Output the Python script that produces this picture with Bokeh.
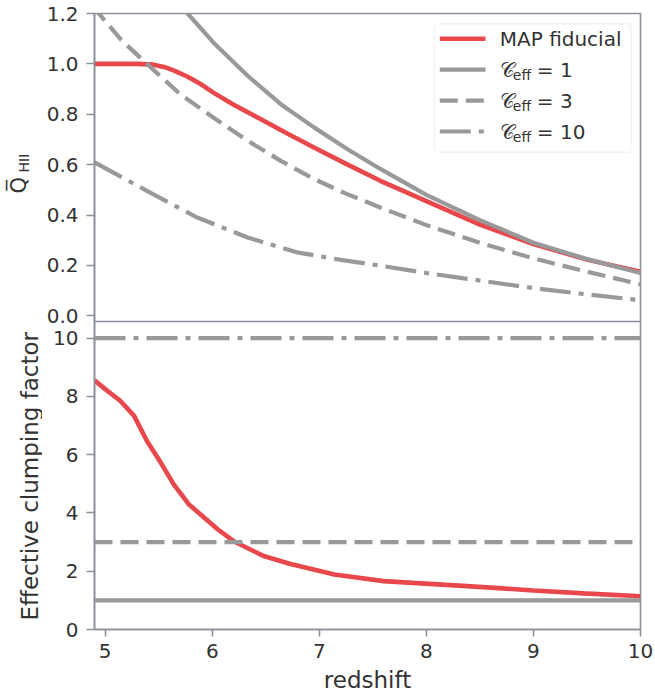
import math
from bokeh.plotting import figure
from bokeh.layouts import row
from bokeh.models import (Range1d, Label, Span, FixedTicker, BoxAnnotation,
                          CustomJSTickFormatter)
from bokeh.embed import file_html
from bokeh.resources import INLINE

# ---------------- data ----------------
z_map = [4.9, 5.3, 5.45, 5.55, 5.65, 5.77, 5.9, 6.01, 6.2, 6.45, 6.7, 6.95, 7.25, 7.57,
         8.0, 8.5, 9.0, 9.5, 10.0]
q_map = [1.0, 1.0, 0.997, 0.988, 0.972, 0.949, 0.918, 0.886, 0.838, 0.781, 0.724, 0.668,
         0.603, 0.536, 0.455, 0.362, 0.285, 0.223, 0.175]

z_c1 = [5.7, 5.77, 6.01, 6.33, 6.64, 6.95, 7.26, 7.57, 8.0, 8.5, 9.0, 9.5, 10.0]
q_c1 = [1.235, 1.2, 1.085, 0.953, 0.84, 0.748, 0.662, 0.583, 0.48, 0.38, 0.29, 0.225, 0.17]

z_c3 = [4.88, 4.94, 5.15, 5.39, 5.7, 6.01, 6.33, 6.64, 6.95, 7.26, 7.57, 8.0, 8.5, 9.0,
        9.5, 10.0]
q_c3 = [1.225, 1.2, 1.095, 1.0, 0.88, 0.787, 0.695, 0.615, 0.543, 0.483, 0.43, 0.36, 0.29,
        0.228, 0.175, 0.125]

z_c10 = [4.9, 5.39, 5.86, 6.33, 6.79, 7.2, 7.57, 8.0, 8.5, 9.0, 9.5, 10.0]
q_c10 = [0.609, 0.496, 0.39, 0.311, 0.252, 0.222, 0.199, 0.17, 0.14, 0.11, 0.085, 0.062]

z_clump = [4.9, 5.0, 5.14, 5.27, 5.39, 5.52, 5.64, 5.78, 6.05, 6.2, 6.48, 6.73, 6.82,
           7.14, 7.6, 8.38, 9.0, 9.47, 10.0]
c_clump = [8.55, 8.25, 7.85, 7.33, 6.47, 5.72, 4.98, 4.30, 3.44, 3.03, 2.52, 2.25, 2.17,
           1.89, 1.66, 1.49, 1.34, 1.24, 1.14]

c_eff_levels = [1, 3, 10]
legend_main = "MAP fiducial"
legend_c_symbol = ["\U0001D49E", "eff"]
legend_c_values = ["= 1", "= 3", "= 10"]
q_label = ["Q\u0305", "HII"]
x_label = "redshift"
c_label = "Effective clumping factor"

x_ticks = [5, 6, 7, 8, 9, 10]
q_ticks = [0.0, 0.2, 0.4, 0.6, 0.8, 1.0, 1.2]
c_ticks = [0, 2, 4, 6, 8, 10]

# ---------------- style ----------------
FONT = "DejaVu Sans"
TXT = "#333333"
SPINE = "#8a919b"
RED = "#e8474c"
GRAY = "#999999"
DASH = "18 8"
DASHDOT = "31 8 5 8"
STYLES = {1: None, 3: DASH, 10: DASHDOT}

X0, X1 = 4.9, 10.0
Q0, Q1 = -0.0226, 1.2          # top panel range
C1 = 10.57                     # bottom panel top
PANEL_H = 308
FRAME_W = 546
TOP_B, BOT_B = 13, 66
QW = 42                        # strip holding rotated y labels
LEFT, RIGHT = 94 - QW, 15
H = TOP_B + 2 * PANEL_H + BOT_B


def q_to_c(q):
    """position of a top-panel value in the shared (bottom-panel) y coordinate"""
    return C1 + (q - Q0) * C1 / (Q1 - Q0)


def fxy(fx, fy):
    """pixel offsets from the top-left corner of the top panel -> (x, q) data coords"""
    return (X0 + fx / FRAME_W * (X1 - X0), Q1 - fy / PANEL_H * (Q1 - Q0))


def txt(x, y, text, size, angle=0.0, align="left", **kw):
    return Label(x=x, y=y, text=text, text_font=FONT, text_font_size=size,
                 text_color=TXT, text_baseline="middle", text_align=align,
                 angle=angle, **kw)


# ---------------- main figure (both panels share one frame) ----------------
p = figure(width=LEFT + FRAME_W + RIGHT, height=H,
           x_range=Range1d(X0, X1), y_range=Range1d(0, q_to_c(Q1)),
           output_backend="svg", toolbar_location=None,
           min_border_left=LEFT, min_border_right=RIGHT,
           min_border_top=TOP_B, min_border_bottom=BOT_B)
# the top panel is drawn in an extra y range that maps its values onto the upper half
p.extra_y_ranges = {"q": Range1d(Q0 - (Q1 - Q0), Q1)}
p.outline_line_color = SPINE
p.outline_line_width = 1.6
p.xgrid.visible = False
p.ygrid.visible = False
for ax in p.axis:
    ax.axis_line_color = SPINE
    ax.axis_line_width = 1.6
    ax.major_tick_line_color = SPINE
    ax.major_tick_line_width = 1.6
    ax.major_tick_in = 0
    ax.minor_tick_line_color = None
    ax.major_label_text_font = FONT
    ax.major_label_text_font_size = "20px"
    ax.major_label_text_color = TXT
    ax.axis_label_text_font = FONT
    ax.axis_label_text_font_size = "23px"
    ax.axis_label_text_color = TXT
    ax.axis_label_text_font_style = "normal"

p.xaxis.ticker = FixedTicker(ticks=x_ticks)
p.xaxis.major_tick_out = 7
p.xaxis.major_label_standoff = 7
p.xaxis.axis_label = x_label
p.xaxis.axis_label_standoff = 6

p.yaxis.ticker = FixedTicker(ticks=list(c_ticks) + [q_to_c(q) for q in q_ticks])
p.yaxis.formatter = CustomJSTickFormatter(code=f"""
    if (tick > {C1} + 1e-9) {{
        const q = {Q0} + (tick - {C1}) * {(Q1 - Q0) / C1};
        return (Math.round(q * 10) / 10).toFixed(1);
    }}
    return tick.toFixed(0);
""")
p.yaxis.major_tick_out = 8
p.yaxis.major_label_standoff = 8

# divider between the panels
p.add_layout(Span(location=C1, dimension="width", line_color=SPINE, line_width=1.6))

# ---- top panel curves ----
p.line(z_map, q_map, y_range_name="q", line_color=RED, line_width=4.6)
p.line(z_c1, q_c1, y_range_name="q", line_color=GRAY, line_width=4.2)
p.line(z_c3, q_c3, y_range_name="q", line_color=GRAY, line_width=4.2, line_dash=DASH)
p.line(z_c10, q_c10, y_range_name="q", line_color=GRAY, line_width=4.2,
       line_dash=DASHDOT)

# ---- bottom panel ----
for lvl in c_eff_levels:
    kw = dict(location=lvl, dimension="width", line_color=GRAY, line_width=4.2)
    if STYLES[lvl]:
        kw["line_dash"] = STYLES[lvl]
    p.add_layout(Span(**kw))
p.line(z_clump, c_clump, line_color=RED, line_width=4.6)

# ---- legend (drawn by hand so that the subscripted script C can be shown) ----
BOX = (340, 10.3, 536.7, 138.7)   # left, top, right, bottom in panel pixels
ROW0, PITCH = 25.3, 30.9
SAMPLE = (345.3, 391)
TEXT_X = 405.3
bl, bt = fxy(BOX[0], BOX[1])
br, bb = fxy(BOX[2], BOX[3])
p.add_layout(BoxAnnotation(left=bl, right=br, top=bt, bottom=bb, y_range_name="q",
                           fill_color="white", fill_alpha=0.8, line_color="#d0d0d0",
                           line_width=1.2, border_radius=4, level="underlay"))

rows = [(legend_main, RED, 4.6, None)] + \
       [(v, GRAY, 4.2, STYLES[l]) for v, l in zip(legend_c_values, c_eff_levels)]
for i, (label, color, lw, dash) in enumerate(rows):
    cy = ROW0 + PITCH * i
    (sx0, sy), (sx1, _) = fxy(SAMPLE[0], cy), fxy(SAMPLE[1], cy)
    kw = dict(line_color=color, line_width=lw, y_range_name="q")
    if dash:
        kw["line_dash"] = dash
    p.line([sx0, sx1], [sy, sy], **kw)
    if i == 0:
        x, y = fxy(TEXT_X, cy)
        p.add_layout(txt(x, y, label, "20px", y_range_name="q"))
    else:
        x, y = fxy(TEXT_X, cy)
        p.add_layout(txt(x, y, legend_c_symbol[0], "20px", y_range_name="q"))
        x, y = fxy(TEXT_X + 13, cy + 5)
        p.add_layout(txt(x, y, legend_c_symbol[1], "14px", y_range_name="q"))
        x, y = fxy(TEXT_X + 37, cy)
        p.add_layout(txt(x, y, label, "20px", y_range_name="q"))

# ---------------- strip with the rotated y labels (page pixel coordinates) ----------------
strip = figure(width=QW, height=H, x_range=Range1d(0, QW),
               y_range=Range1d(TOP_B + 2 * PANEL_H, TOP_B),
               output_backend="svg", toolbar_location=None,
               min_border_left=0, min_border_right=0,
               min_border_top=TOP_B, min_border_bottom=BOT_B)
strip.axis.visible = False
strip.grid.visible = False
strip.outline_line_color = None
strip.add_layout(txt(18, 193, q_label[0], "21px", angle=math.pi / 2))
strip.add_layout(txt(23, 172, q_label[1], "14px", angle=math.pi / 2))
strip.add_layout(txt(29, 620, c_label, "23px", angle=math.pi / 2))

layout = row(strip, p, spacing=0)
open("out.html", "w").write(file_html(layout, INLINE))
